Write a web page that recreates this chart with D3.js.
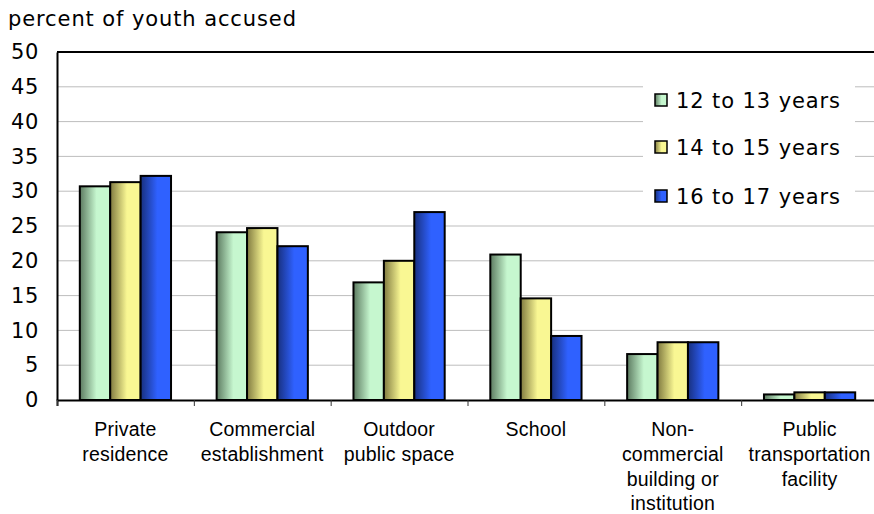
<!DOCTYPE html>
<html><head><meta charset="utf-8">
<script src="https://cdn.jsdelivr.net/npm/d3@7"></script>
<style>body{margin:0;background:#fff}svg{display:block}text{font-family:"DejaVu Sans",Verdana,sans-serif;fill:#000}</style>
</head><body>
<svg id="c" width="874" height="514"></svg>
<script>
const categories = [["Private","residence"],["Commercial","establishment"],["Outdoor","public space"],["School"],["Non-","commercial","building or","institution"],["Public","transportation","facility"]];
const seriesNames = ["12 to 13 years","14 to 15 years","16 to 17 years"];
const age12to13 = [30.7, 24.1, 16.9, 20.9, 6.6, 0.8];
const age14to15 = [31.3, 24.7, 20.0, 14.6, 8.3, 1.1];
const age16to17 = [32.2, 22.1, 27.0, 9.2, 8.3, 1.1];
const yTicks = [0,5,10,15,20,25,30,35,40,45,50];
const yTitle = "percent of youth accused";

const series = [age12to13, age14to15, age16to17];
const grads = [["#5c7a60","#c6f7cf"],["#807a40","#f9f793"],["#18307e","#2f61ff"]];

const svg = d3.select("#c");
const L = 57, R = 878, T = 52, B = 400;
const x0 = d3.scaleBand().domain(d3.range(categories.length)).range([L, R]).paddingInner(0).paddingOuter(0);
const y = d3.scaleLinear().domain([0, 50]).range([B, T]);
const bw = x0.bandwidth() / 4.5;
const x1 = d3.scaleBand().domain(d3.range(3)).range([0.75*bw, 3.75*bw]);

const defs = svg.append("defs");
grads.forEach((g,i)=>{
  const lg = defs.append("linearGradient").attr("id","g"+i).attr("x1","0").attr("x2","1").attr("y1","0").attr("y2","0");
  lg.append("stop").attr("offset","0").attr("stop-color",g[0]);
  lg.append("stop").attr("offset","0.55").attr("stop-color",g[1]);
  lg.append("stop").attr("offset","1").attr("stop-color",g[1]);
});

// gridlines
svg.append("g").selectAll("line").data(yTicks.filter(t=>t>0 && t<50)).join("line")
  .attr("x1",L).attr("x2",R).attr("y1",d=>y(d)).attr("y2",d=>y(d))
  .attr("stroke","#bdbdbd").attr("stroke-width",1);

// top border
svg.append("line").attr("x1",L).attr("x2",R).attr("y1",y(50)).attr("y2",y(50)).attr("stroke","#000").attr("stroke-width",2);

// bars
series.forEach((vals,si)=>{
  svg.append("g").selectAll("rect").data(vals).join("rect")
    .attr("x",(d,i)=>x0(i)+x1(si))
    .attr("width",x1.bandwidth())
    .attr("y",d=>y(d))
    .attr("height",d=>y(0)-y(d))
    .attr("fill","url(#g"+si+")")
    .attr("stroke","#000").attr("stroke-width",2);
});

// y axis
const ya = d3.axisLeft(y).tickValues(yTicks).tickSize(0).tickPadding(18);
const yg = svg.append("g").attr("transform",`translate(${L},0)`).call(ya);
yg.select(".domain").attr("stroke","#000").attr("stroke-width",2);
yg.selectAll("text").style("font-size","21px").style("letter-spacing","0.6px").attr("fill","#000");

// x axis
const xa = d3.axisBottom(d3.scaleLinear().domain([0,categories.length]).range([L,R])).tickValues(d3.range(0,categories.length+1)).tickSize(6).tickFormat("");
const xg = svg.append("g").attr("transform",`translate(0,${B})`).call(xa);
xg.select(".domain").attr("stroke","#000").attr("stroke-width",2);
xg.selectAll(".tick line").attr("stroke","#333");

// category labels
const cl = svg.append("g");
categories.forEach((lines,i)=>{
  const cx = x0(i)+x0.bandwidth()/2;
  const t = cl.append("text").attr("text-anchor","middle")
    .style("font-size","19.5px").style("font-family","'Liberation Sans',Arial,sans-serif")
    .style("letter-spacing","0.2px")
    .attr("x", cx).attr("y",436);
  lines.forEach((ln,j)=>t.append("tspan").attr("x",cx).attr("dy",j===0?0:24.8).text(ln));
});

// title
svg.append("text").attr("x",8).attr("y",26).style("font-size","21px").style("letter-spacing","0.9px").text(yTitle);

// legend
const lg = svg.append("g");
lg.append("rect").attr("x",643).attr("y",72).attr("width",212).attr("height",146).attr("fill","#fff");
const ly = [100,147,196];
seriesNames.forEach((n,i)=>{
  lg.append("rect").attr("x",655).attr("y",ly[i]-6).attr("width",12).attr("height",12)
    .attr("fill","url(#g"+i+")").attr("stroke","#000").attr("stroke-width",1.5);
  lg.append("text").attr("x",676).attr("y",ly[i]+7.5).style("font-size","21px").style("letter-spacing","0.9px").text(n);
});
</script>
</body></html>
